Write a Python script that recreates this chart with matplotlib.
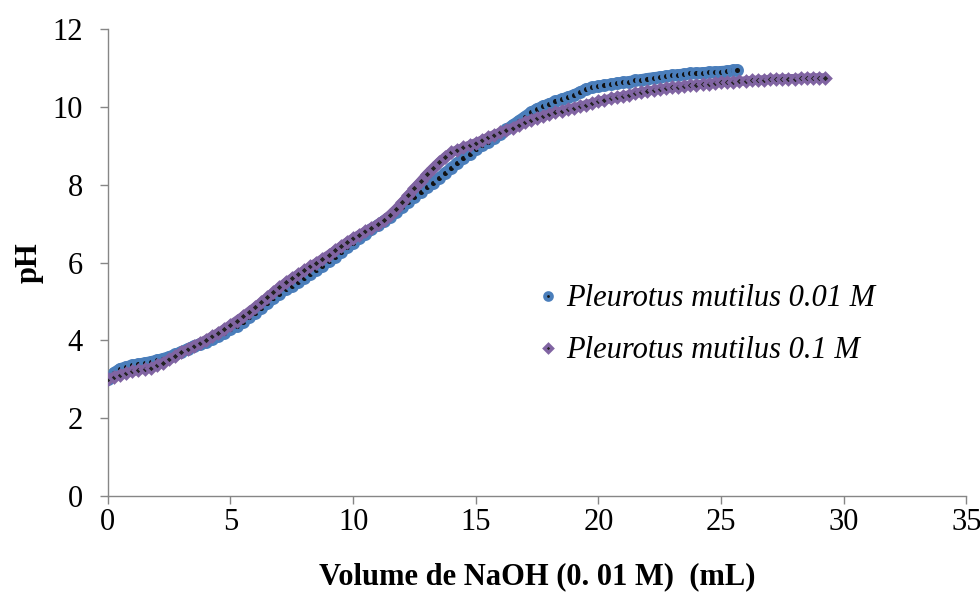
import matplotlib
matplotlib.use("Agg")
import matplotlib.pyplot as plt

# ---- data ----
vol_001 = [0.00, 0.25, 0.50, 0.75, 1.00, 1.25, 1.50, 1.75, 2.00, 2.25, 2.50, 2.75,
           3.00, 3.25, 3.50, 3.75, 4.00, 4.25, 4.50, 4.75, 5.00, 5.25, 5.50, 5.75,
           6.00, 6.25, 6.50, 6.75, 7.00, 7.25, 7.50, 7.75, 8.00, 8.25, 8.50, 8.75,
           9.00, 9.25, 9.50, 9.75, 10.00, 10.25, 10.50, 10.75, 11.00, 11.25, 11.50, 11.75,
           12.00, 12.25, 12.50, 12.75, 13.00, 13.25, 13.50, 13.75, 14.00, 14.25, 14.50, 14.75,
           15.00, 15.25, 15.50, 15.75, 16.00, 16.25, 16.50, 16.75, 17.00, 17.25, 17.50, 17.75,
           18.00, 18.25, 18.50, 18.75, 19.00, 19.25, 19.50, 19.75, 20.00, 20.25, 20.50, 20.75,
           21.00, 21.25, 21.50, 21.75, 22.00, 22.25, 22.50, 22.75, 23.00, 23.25, 23.50, 23.75,
           24.00, 24.25, 24.50, 24.75, 25.00, 25.25, 25.50, 25.65]
ph_001 = [3.00, 3.17, 3.27, 3.32, 3.36, 3.39, 3.42, 3.45, 3.49, 3.53, 3.58, 3.64,
          3.71, 3.78, 3.85, 3.91, 3.97, 4.04, 4.11, 4.19, 4.28, 4.38, 4.48, 4.59,
          4.71, 4.83, 4.95, 5.08, 5.20, 5.31, 5.41, 5.51, 5.61, 5.71, 5.81, 5.92,
          6.03, 6.15, 6.27, 6.39, 6.51, 6.62, 6.73, 6.85, 6.96, 7.07, 7.18, 7.30,
          7.43, 7.56, 7.69, 7.82, 7.94, 8.05, 8.17, 8.30, 8.43, 8.56, 8.68, 8.80,
          8.91, 9.01, 9.11, 9.21, 9.31, 9.42, 9.53, 9.64, 9.75, 9.86, 9.95, 10.02,
          10.08, 10.14, 10.20, 10.25, 10.31, 10.38, 10.46, 10.50, 10.53, 10.56, 10.58, 10.61,
          10.63, 10.65, 10.68, 10.70, 10.73, 10.75, 10.77, 10.79, 10.81, 10.83, 10.84, 10.86,
          10.87, 10.88, 10.89, 10.90, 10.91, 10.92, 10.94, 10.95]

vol_01 = [0.00, 0.25, 0.50, 0.75, 1.00, 1.25, 1.50, 1.75, 2.00, 2.25, 2.50, 2.75,
          3.00, 3.25, 3.50, 3.75, 4.00, 4.25, 4.50, 4.75, 5.00, 5.25, 5.50, 5.75,
          6.00, 6.25, 6.50, 6.75, 7.00, 7.25, 7.50, 7.75, 8.00, 8.25, 8.50, 8.75,
          9.00, 9.25, 9.50, 9.75, 10.00, 10.25, 10.50, 10.75, 11.00, 11.25, 11.50, 11.75,
          12.00, 12.25, 12.50, 12.75, 13.00, 13.25, 13.50, 13.75, 14.00, 14.25, 14.50, 14.75,
          15.00, 15.25, 15.50, 15.75, 16.00, 16.25, 16.50, 16.75, 17.00, 17.25, 17.50, 17.75,
          18.00, 18.25, 18.50, 18.75, 19.00, 19.25, 19.50, 19.75, 20.00, 20.25, 20.50, 20.75,
          21.00, 21.25, 21.50, 21.75, 22.00, 22.25, 22.50, 22.75, 23.00, 23.25, 23.50, 23.75,
          24.00, 24.25, 24.50, 24.75, 25.00, 25.25, 25.50, 25.75, 26.00, 26.25, 26.50, 26.75,
          27.00, 27.25, 27.50, 27.75, 28.00, 28.25, 28.50, 28.75, 29.00, 29.25]
ph_01 = [3.00, 3.07, 3.12, 3.16, 3.20, 3.23, 3.26, 3.29, 3.36, 3.43, 3.51, 3.60,
         3.70, 3.78, 3.86, 3.94, 4.02, 4.11, 4.20, 4.30, 4.40, 4.51, 4.62, 4.74,
         4.86, 4.98, 5.11, 5.24, 5.37, 5.49, 5.60, 5.70, 5.80, 5.90, 6.00, 6.10,
         6.20, 6.31, 6.42, 6.53, 6.63, 6.72, 6.81, 6.90, 6.99, 7.10, 7.23, 7.38,
         7.55, 7.73, 7.91, 8.09, 8.27, 8.43, 8.58, 8.72, 8.83, 8.90, 8.96, 9.02,
         9.08, 9.15, 9.22, 9.29, 9.35, 9.41, 9.47, 9.54, 9.61, 9.67, 9.72, 9.77,
         9.82, 9.86, 9.90, 9.94, 9.98, 10.02, 10.06, 10.10, 10.14, 10.18, 10.22, 10.25,
         10.28, 10.31, 10.35, 10.38, 10.41, 10.43, 10.46, 10.48, 10.50, 10.52, 10.54, 10.56,
         10.57, 10.59, 10.60, 10.62, 10.63, 10.64, 10.65, 10.66, 10.67, 10.68, 10.69, 10.70,
         10.71, 10.72, 10.72, 10.73, 10.73, 10.74, 10.74, 10.75, 10.75, 10.75]

labels = ["Pleurotus mutilus 0.01 M", "Pleurotus mutilus 0.1 M"]
x_ticks = [0, 5, 10, 15, 20, 25, 30, 35]
y_ticks = [0, 2, 4, 6, 8, 10, 12]

# ---- figure ----
plt.rcParams['font.family'] = ['Liberation Serif', 'DejaVu Serif']
fig = plt.figure(figsize=(9.8, 5.94), dpi=100)
ax = fig.add_axes([0.110, 0.165, 0.876, 0.786])

blue = '#4A7EBB'
purple = '#8064A2'

# continuous band under the dense markers
ax.plot(vol_001, ph_001, color=blue, linewidth=8, solid_capstyle='round',
        solid_joinstyle='round', zorder=2)
ax.plot(vol_001, ph_001, linestyle='none', marker='o', markersize=6.5,
        markerfacecolor='#111111', markeredgecolor=blue, markeredgewidth=2.8,
        label=labels[0], zorder=3)
ax.plot(vol_01, ph_01, color=purple, linewidth=6.5, solid_capstyle='round',
        solid_joinstyle='round', zorder=4)
ax.plot(vol_01, ph_01, linestyle='none', marker='D', markersize=5.5,
        markerfacecolor='#222222', markeredgecolor=purple, markeredgewidth=2.4,
        label=labels[1], zorder=5)

ax.set_xlim(0, 35)
ax.set_ylim(0, 12)
ax.set_xticks(x_ticks)
ax.set_yticks(y_ticks)
for s in ['top', 'right']:
    ax.spines[s].set_visible(False)
for s in ['left', 'bottom']:
    ax.spines[s].set_color('#868686')
    ax.spines[s].set_linewidth(1.0)
ax.tick_params(axis='both', colors='#868686', length=6, width=1.0,
               labelsize=22, labelcolor='black', direction='out')
ax.tick_params(axis='x', pad=3)
ax.tick_params(axis='y', pad=12)

ax.set_xlabel("Volume de NaOH (0. 01 M)  (mL)", fontsize=22, fontweight='bold', labelpad=18)
ax.set_ylabel("pH", fontsize=22, fontweight='bold', labelpad=6)

leg = ax.legend(loc='upper left', bbox_to_anchor=(0.470, 0.512), frameon=False,
                prop={'family': ['Liberation Serif'], 'style': 'italic', 'size': 22},
                handlelength=0.6, handletextpad=0.3, labelspacing=0.75, markerscale=0.75,
                borderpad=0.4)

fig.savefig('out.png', dpi=100)
